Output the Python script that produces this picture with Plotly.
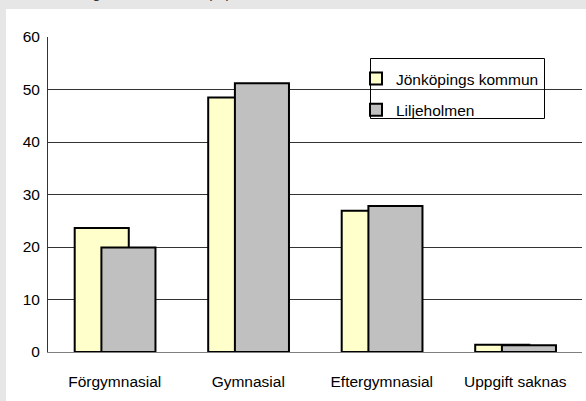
import plotly.graph_objects as go

categories = ["Förgymnasial", "Gymnasial", "Eftergymnasial", "Uppgift saknas"]
jonkoping = [23.6, 48.5, 26.9, 1.4]
liljeholmen = [19.9, 51.2, 27.8, 1.3]
y_ticks = [0, 10, 20, 30, 40, 50, 60]

W, H = 586, 401
ml, mr, mt, mb = 48, 4, 37, 49
pw = W - ml - mr
ph = H - mt - mb

def px_x(p):
    return (p - ml) / pw

def px_y(p):
    return (H - mb - p) / ph

FAM = "Liberation Sans, Arial, sans-serif"
font = dict(family=FAM, size=15.5, color="black")

fig = go.Figure()
fig.add_trace(go.Bar(
    x=categories, y=jonkoping, name="Jönköpings kommun",
    width=0.405, offset=-0.3,
    marker=dict(color="#FFFFCC", line=dict(color="black", width=2)),
    legendgroup="a",
))
fig.add_trace(go.Bar(
    x=categories, y=liljeholmen, name="Liljeholmen",
    width=0.405, offset=-0.1,
    marker=dict(color="#C0C0C0", line=dict(color="black", width=2)),
    legendgroup="b",
))

fig.update_layout(
    width=W, height=H,
    margin=dict(l=ml, r=mr, t=mt, b=mb, pad=0),
    paper_bgcolor="#E6E6E6",
    plot_bgcolor="white",
    barmode="overlay",
    font=font,
    showlegend=True,
    legend=dict(
        x=px_x(356), y=px_y(62), xanchor="left", yanchor="top",
        bgcolor="rgba(0,0,0,0)", borderwidth=0,
        font=font, itemwidth=30, tracegroupgap=8,
        traceorder="grouped",
    ),
    shapes=[
        dict(
            type="rect", xref="paper", yref="paper", layer="below",
            x0=px_x(6), x1=px_x(W + 5), y0=px_y(H + 5), y1=px_y(9),
            fillcolor="white", line=dict(width=0),
        ),
        dict(
            type="rect", xref="paper", yref="paper", layer="above",
            x0=px_x(370.5), x1=px_x(544.5), y0=px_y(118.5), y1=px_y(58.5),
            fillcolor="rgba(0,0,0,0)", line=dict(color="black", width=1),
        ),
    ],
    annotations=[dict(
        text="Utbildningsnivå 25–64 år (%)", xref="paper", yref="paper",
        x=px_x(30), y=px_y(3), xanchor="left", yanchor="bottom",
        showarrow=False, font=dict(family=FAM, size=15.5, color="#333"),
    )],
)

fig.update_xaxes(
    type="category", range=[-0.5, 3.5],
    showgrid=False, showline=True, linecolor="#808080", linewidth=1,
    ticks="outside", ticklen=15, tickcolor="rgba(0,0,0,0)",
    tickfont=font, zeroline=False,
)
fig.update_yaxes(
    range=[0, 60], tickvals=y_ticks, ticktext=[str(v) for v in y_ticks],
    showgrid=True, gridcolor="#333333", gridwidth=1,
    showline=True, linecolor="#333333", linewidth=1,
    ticks="outside", ticklen=4, tickcolor="rgba(0,0,0,0)",
    tickfont=font, zeroline=False,
)

fig.write_html(
    "out.html",
    config={"displayModeBar": False},
    post_script="document.body.style.margin='0';document.body.style.overflow='hidden';",
)
